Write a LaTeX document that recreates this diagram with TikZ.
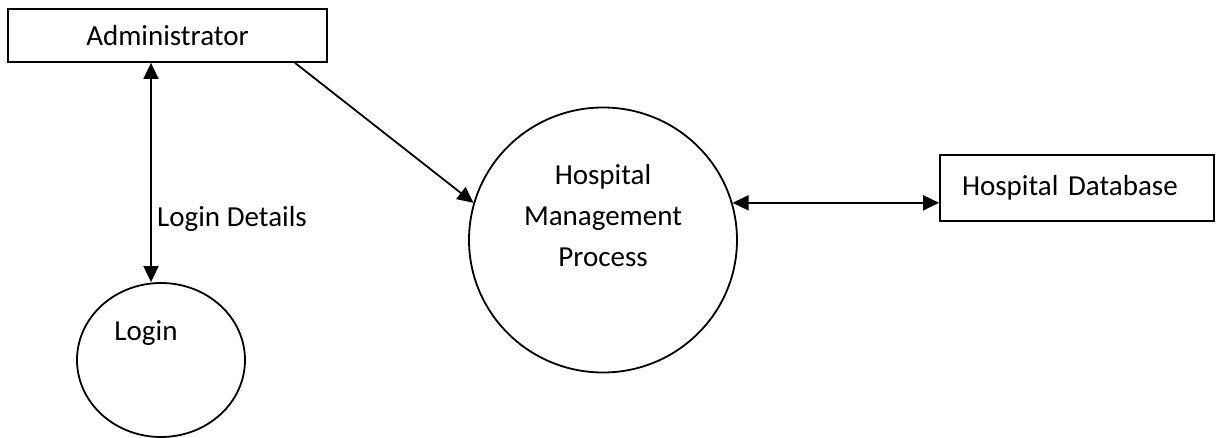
\documentclass[tikz,border=0pt]{standalone}
\usepackage{fontspec}
\setmainfont{Carlito}
\usetikzlibrary{shapes.geometric,arrows.meta}
\begin{document}
\begin{tikzpicture}[x=1pt,y=-1pt,
  every node/.style={font=\fontsize{29}{41}\selectfont},
  entity/.style={draw, line width=1.8pt, rectangle, inner sep=0pt},
  proc/.style={draw, line width=1.8pt, ellipse, inner sep=0pt},
  flow/.style={line width=1.8pt, {Triangle[length=16pt,width=15pt]}-{Triangle[length=16pt,width=15pt]}},
  oneway/.style={line width=1.8pt, -{Triangle[length=16pt,width=15pt]}}]
\useasboundingbox (0,0) rectangle (1216,438);
\node[entity, minimum width=319pt, minimum height=53pt] (admin) at (167.5,35.5) {Administrator};
\node[proc, minimum width=168pt, minimum height=154pt] (login) at (161,360) {};
\node (loginlbl) at (146,333) {Login};
\node[proc, minimum width=268pt, minimum height=265pt] (hosp) at (603,240) {};
\node[align=center] (hosplbl) at (603,216) {Hospital\\Management\\Process};
\node[entity, minimum height=66pt, text width=230pt, inner xsep=22pt, align=left] (db) at (1077,188) {Hospital Database};
\coordinate (v) at (151,0);
\coordinate (s) at (295,0);
\draw[flow] (admin.south -| v) -- (login.north -| v) node[pos=0.71, right=2pt] (ldlbl) {Login Details};
\draw[oneway] (admin.south -| s) -- (hosp.164);
\draw[flow] (hosp.16.7) -- (hosp.16.7 -| db.west);
\end{tikzpicture}
\end{document}
